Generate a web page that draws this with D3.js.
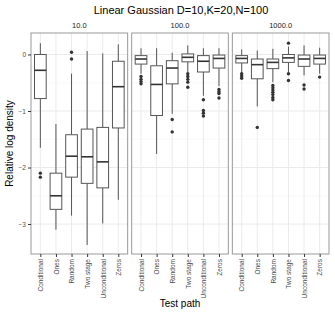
<!DOCTYPE html>
<html lang="en">
<head>
  <meta charset="UTF-8">
  <title>boxplots</title>
  <script src="https://cdnjs.cloudflare.com/ajax/libs/d3/7.8.5/d3.min.js"></script>
  <style type="text/css">
    body { margin: 0; background: #fff; }
    text { font-family: "Liberation Sans", Arial, sans-serif; }
  </style>
</head>
<body>
  <script>
    var w = 335;
    var h = 318;

    var facets = ['10.0', '100.0', '1000.0'];
    var paths = ['Conditional', 'Ones', 'Random', 'Two stage', 'Unconditional', 'Zeros'];
    var yTicks = [0, -1, -2, -3];
    var yMinor = [-0.5, -1.5, -2.5];

    // [lower whisker, q1, median, q3, upper whisker] for each path
    var stats10 = [
      [-1.65, -0.78, -0.28, 0.00, 0.20],
      [-3.10, -2.74, -2.50, -2.10, -1.23],
      [-2.85, -2.17, -1.80, -1.42, -0.34],
      [-3.37, -2.28, -1.81, -1.32, 0.06],
      [-2.99, -2.36, -1.90, -1.29, 0.02],
      [-2.57, -1.30, -0.57, -0.12, 0.18]
    ];
    var stats100 = [
      [-0.34, -0.17, -0.08, -0.02, 0.11],
      [-1.76, -1.08, -0.53, -0.20, 0.11],
      [-1.05, -0.52, -0.24, -0.11, 0.03],
      [-0.31, -0.13, -0.05, 0.01, 0.16],
      [-0.73, -0.31, -0.12, -0.02, 0.11],
      [-0.56, -0.24, -0.07, -0.01, 0.11]
    ];
    var stats1000 = [
      [-0.33, -0.15, -0.07, -0.02, 0.09],
      [-0.92, -0.43, -0.18, -0.08, 0.07],
      [-0.49, -0.25, -0.14, -0.08, 0.10],
      [-0.31, -0.14, -0.06, 0.00, 0.14],
      [-0.37, -0.21, -0.08, -0.01, 0.16],
      [-0.34, -0.17, -0.07, -0.01, 0.12]
    ];

    var outliers10 = [[-2.10, -2.17], [], [0.04, -0.08], [], [], []];
    var outliers100 = [
      [-0.39, -0.44, -0.48, -0.52],
      [],
      [-1.15, -1.37],
      [-0.34, -0.39, -0.44, -0.49, -0.58],
      [-0.80, -0.99, -1.04, -1.09],
      [-0.62, -0.66, -0.69, -0.77]
    ];
    var outliers1000 = [
      [-0.34, -0.38, -0.42],
      [-1.29],
      [-0.55, -0.59, -0.63, -0.67, -0.71, -0.76, -0.80],
      [0.20, -0.34, -0.46],
      [-0.54, -0.61],
      [-0.40]
    ];

    var allStats = [stats10, stats100, stats1000];
    var allOutliers = [outliers10, outliers100, outliers1000];

    var padL = 31, padR = 329, padT = 33, padB = 254, gap = 4;
    var pw = (padR - padL - gap * 2) / 3;

    var svg = d3.select('body')
      .append('svg')
      .attr('width', w)
      .attr('height', h);

    var y = d3.scaleLinear().domain([-3.53, 0.38]).range([padB, padT]);

    svg.append('text')
      .attr('x', 181)
      .attr('y', 14)
      .attr('text-anchor', 'middle')
      .attr('font-size', 11)
      .attr('fill', '#000')
      .text('Linear Gaussian D=10,K=20,N=100');

    facets.forEach(function (f, i) {
      var x0 = padL + i * (pw + gap);
      var x = d3.scalePoint().domain(paths).range([x0, x0 + pw]).padding(0.6);
      var bw = x.step() * 0.75;
      var g = svg.append('g');

      g.selectAll('line.minor')
        .data(yMinor)
        .enter().append('line')
        .attr('class', 'minor')
        .attr('x1', x0).attr('x2', x0 + pw)
        .attr('y1', function (d) { return y(d); })
        .attr('y2', function (d) { return y(d); })
        .attr('stroke', '#f5f5f5').attr('stroke-width', 0.6);

      g.selectAll('line.major')
        .data(yTicks)
        .enter().append('line')
        .attr('class', 'major')
        .attr('x1', x0).attr('x2', x0 + pw)
        .attr('y1', function (d) { return y(d); })
        .attr('y2', function (d) { return y(d); })
        .attr('stroke', '#ebebeb').attr('stroke-width', 1);

      g.selectAll('line.vgrid')
        .data(paths)
        .enter().append('line')
        .attr('class', 'vgrid')
        .attr('x1', function (d) { return x(d); })
        .attr('x2', function (d) { return x(d); })
        .attr('y1', padT).attr('y2', padB)
        .attr('stroke', '#ebebeb').attr('stroke-width', 1);

      var stats = allStats[i];
      var outs = allOutliers[i];

      paths.forEach(function (p, j) {
        var s = stats[j];
        var cx = x(p);
        g.append('line')
          .attr('x1', cx).attr('x2', cx)
          .attr('y1', y(s[4])).attr('y2', y(s[3]))
          .attr('stroke', '#555').attr('stroke-width', 1);
        g.append('line')
          .attr('x1', cx).attr('x2', cx)
          .attr('y1', y(s[1])).attr('y2', y(s[0]))
          .attr('stroke', '#555').attr('stroke-width', 1);
        g.append('rect')
          .attr('x', cx - bw / 2)
          .attr('width', bw)
          .attr('y', y(s[3]))
          .attr('height', y(s[1]) - y(s[3]))
          .attr('fill', '#fff')
          .attr('stroke', '#555').attr('stroke-width', 1);
        g.append('line')
          .attr('x1', cx - bw / 2).attr('x2', cx + bw / 2)
          .attr('y1', y(s[2])).attr('y2', y(s[2]))
          .attr('stroke', '#333').attr('stroke-width', 1.6);
        g.selectAll(null)
          .data(outs[j])
          .enter().append('circle')
          .attr('cx', cx)
          .attr('cy', function (d) { return y(d); })
          .attr('r', 1.7)
          .attr('fill', '#333');
      });

      g.append('rect')
        .attr('x', x0).attr('y', padT)
        .attr('width', pw).attr('height', padB - padT)
        .attr('fill', 'none')
        .attr('stroke', '#999').attr('stroke-width', 1);

      g.append('text')
        .attr('x', x0 + pw / 2)
        .attr('y', 28)
        .attr('text-anchor', 'middle')
        .attr('font-size', 7.5)
        .attr('fill', '#1a1a1a')
        .text(f);

      var xAxis = d3.axisBottom(x).tickSize(3).tickPadding(2);
      var ax = g.append('g')
        .attr('transform', 'translate(0,' + padB + ')')
        .call(xAxis);
      ax.select('.domain').remove();
      ax.selectAll('line').attr('stroke', '#333');
      ax.selectAll('text')
        .attr('font-size', 6.5)
        .attr('fill', '#4d4d4d')
        .attr('transform', 'rotate(-90)')
        .attr('text-anchor', 'end')
        .attr('x', -5)
        .attr('y', 0)
        .attr('dy', '0.35em');

      if (i === 0) {
        var yAxis = d3.axisLeft(y).tickValues(yTicks).tickSize(3).tickPadding(2)
          .tickFormat(function (d) { return d === 0 ? '0' : '\u2212' + Math.abs(d); });
        var ay = g.append('g')
          .attr('transform', 'translate(' + x0 + ',0)')
          .call(yAxis);
        ay.select('.domain').remove();
        ay.selectAll('line').attr('stroke', '#333');
        ay.selectAll('text').attr('font-size', 6.5).attr('fill', '#4d4d4d');
      }
    });

    svg.append('text')
      .attr('x', 180)
      .attr('y', 307)
      .attr('text-anchor', 'middle')
      .attr('font-size', 10)
      .text('Test path');

    svg.append('text')
      .attr('transform', 'translate(13,' + ((padT + padB) / 2) + ') rotate(-90)')
      .attr('text-anchor', 'middle')
      .attr('font-size', 10)
      .text('Relative log density');
  </script>
</body>
</html>
